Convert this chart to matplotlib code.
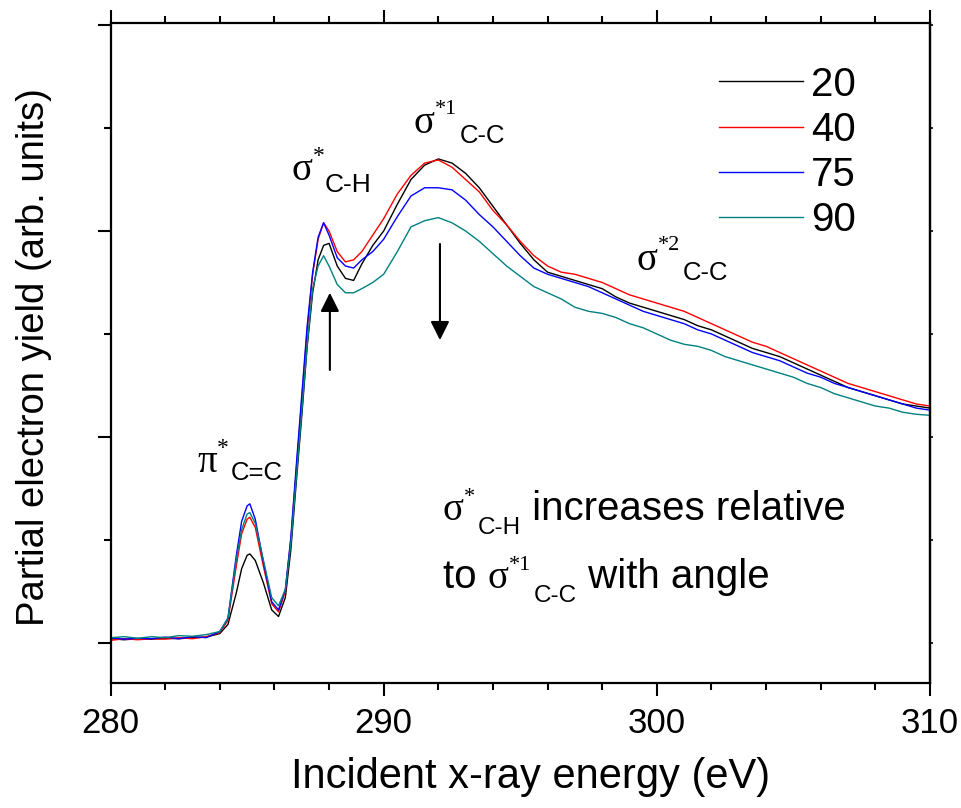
import matplotlib
matplotlib.use("Agg")
import matplotlib.pyplot as plt
import matplotlib.transforms as mtransforms
from matplotlib.ticker import MultipleLocator

plt.rcParams['font.family'] = ['Liberation Sans', 'DejaVu Sans']

# photon energy (eV)
energy = [280.0, 280.5, 281.0, 281.5, 282.0, 282.5, 283.0, 283.5, 284.0,
          284.3, 284.6, 284.8, 285.0, 285.1, 285.3, 285.6, 285.9, 286.15,
          286.4, 286.6, 286.8, 287.0, 287.2, 287.4, 287.6, 287.8, 288.0,
          288.3, 288.6, 288.9, 289.2, 289.6,
          290.0, 290.5, 291.0, 291.5, 292.0, 292.5, 293.0, 293.5, 294.0, 294.5,
          295.0, 295.5, 296.0, 296.5, 297.0, 297.5, 298.0, 298.5, 299.0, 299.5,
          300.0, 300.5, 301.0, 301.5, 302.0, 302.5, 303.0, 303.5, 304.0, 304.5,
          305.0, 305.5, 306.0, 306.5, 307.0, 307.5, 308.0, 308.5, 309.0, 309.5,
          310.0]

# partial electron yield for each incidence angle
pey_20 = [0.02, 0.015, 0.02, 0.018, 0.022, 0.02, 0.025, 0.028, 0.045,
          0.09, 0.24, 0.36, 0.425, 0.432, 0.40, 0.29, 0.16, 0.128,
          0.22, 0.45, 0.78, 1.10, 1.44, 1.70, 1.86, 1.93, 1.94,
          1.83, 1.77, 1.76, 1.84, 1.93,
          2.00, 2.13, 2.25, 2.32, 2.35, 2.33, 2.28, 2.21, 2.12, 2.03,
          1.94, 1.86, 1.80, 1.78, 1.76, 1.74, 1.72, 1.68, 1.65, 1.63,
          1.61, 1.59, 1.57, 1.54, 1.52, 1.49, 1.46, 1.43, 1.41, 1.39,
          1.36, 1.33, 1.30, 1.27, 1.24, 1.22, 1.20, 1.18, 1.16, 1.15,
          1.14]
pey_40 = [0.012, 0.02, 0.015, 0.02, 0.018, 0.025, 0.02, 0.03, 0.05,
          0.11, 0.37, 0.53, 0.60, 0.61, 0.56, 0.37, 0.19, 0.15,
          0.25, 0.50, 0.84, 1.18, 1.52, 1.79, 1.96, 2.04, 2.00,
          1.90, 1.85, 1.86, 1.90, 1.98,
          2.06, 2.18, 2.27, 2.33, 2.345, 2.31, 2.25, 2.19, 2.10, 2.03,
          1.95, 1.88, 1.83, 1.80, 1.79, 1.77, 1.75, 1.72, 1.69, 1.67,
          1.65, 1.63, 1.61, 1.58, 1.55, 1.52, 1.49, 1.46, 1.44, 1.41,
          1.38, 1.35, 1.32, 1.29, 1.26, 1.24, 1.22, 1.20, 1.18, 1.16,
          1.15]
pey_75 = [0.025, 0.018, 0.022, 0.02, 0.028, 0.02, 0.03, 0.025, 0.055,
          0.12, 0.42, 0.59, 0.665, 0.675, 0.60, 0.39, 0.20, 0.16,
          0.26, 0.51, 0.86, 1.20, 1.54, 1.80, 1.97, 2.04, 1.98,
          1.87, 1.83, 1.82, 1.86, 1.90,
          1.96, 2.07, 2.17, 2.21, 2.21, 2.20, 2.15, 2.08, 2.02, 1.95,
          1.88, 1.82, 1.79, 1.77, 1.75, 1.73, 1.70, 1.67, 1.64, 1.61,
          1.59, 1.57, 1.55, 1.52, 1.50, 1.47, 1.44, 1.41, 1.39, 1.37,
          1.34, 1.31, 1.29, 1.26, 1.24, 1.22, 1.20, 1.18, 1.16, 1.14,
          1.13]
pey_90 = [0.025, 0.03, 0.022, 0.03, 0.025, 0.035, 0.032, 0.04, 0.055,
          0.12, 0.40, 0.55, 0.625, 0.633, 0.58, 0.40, 0.22, 0.18,
          0.26, 0.48, 0.80, 1.12, 1.45, 1.72, 1.83, 1.88, 1.83,
          1.74, 1.70, 1.70, 1.72, 1.75,
          1.79, 1.90, 2.02, 2.05, 2.065, 2.04, 2.00, 1.95, 1.89, 1.83,
          1.78, 1.73, 1.70, 1.67, 1.63, 1.61, 1.60, 1.58, 1.55, 1.53,
          1.50, 1.47, 1.45, 1.44, 1.42, 1.39, 1.37, 1.35, 1.33, 1.31,
          1.29, 1.26, 1.24, 1.21, 1.19, 1.17, 1.15, 1.14, 1.12, 1.11,
          1.105]

angles = ['20', '40', '75', '90']
colors = ['black', '#ff0000', '#0000ff', '#008080']

fig = plt.figure(figsize=(9.62, 8.08), dpi=100)
ax = fig.add_axes([0.1149, 0.1547, 0.8518, 0.8168])

for lab, y, c in zip(angles, [pey_20, pey_40, pey_75, pey_90], colors):
    ax.plot(energy, y, color=c, lw=1.0, label=lab)

ax.set_xlim(280, 310)
ax.set_ylim(-0.195, 3.01)

ax.xaxis.set_major_locator(MultipleLocator(10))
ax.xaxis.set_minor_locator(MultipleLocator(2))
ax.yaxis.set_major_locator(MultipleLocator(1))
ax.yaxis.set_minor_locator(MultipleLocator(0.5))
ax.set_yticklabels([])

for s in ax.spines.values():
    s.set_linewidth(1.6)
ax.tick_params(axis='x', which='both', top=True, direction='out')
ax.tick_params(which='major', length=9.5, width=1.5, labelsize=25, pad=8)
ax.tick_params(which='minor', length=5, width=1.5)
ax.tick_params(axis='y', which='both', left=True, right=False)

# tiny ticks on the right spine
sec = ax.secondary_yaxis('right')
sec.yaxis.set_major_locator(MultipleLocator(1))
sec.yaxis.set_minor_locator(MultipleLocator(0.5))
sec.tick_params(which='both', direction='out', length=2, width=1.2, labelright=False)
sec.spines['right'].set_linewidth(1.6)

ax.set_xlabel('Incident x-ray energy (eV)', fontsize=30)
ax.set_ylabel('Partial electron yield (arb. units)', fontsize=27.5)
ax.xaxis.set_label_coords(0.513, -0.112)
ax.yaxis.set_label_coords(-0.072, 0.494)

ax.legend(frameon=False, loc='upper left', bbox_to_anchor=(0.742, 0.9356),
          fontsize=29, handlelength=2.1, handletextpad=0.2,
          labelspacing=0.18, borderpad=0, borderaxespad=0)

renderer = fig.canvas.get_renderer()
SERIF = 'Liberation Serif'
SANS = 'Liberation Sans'


def rich(x, y, parts):
    # parts: (text, size, rise in points, family, gap in points before)
    dx = 0.0
    for txt, size, rise, fam, gap in parts:
        dx += gap * fig.dpi / 72.0
        tr = mtransforms.offset_copy(ax.transData, fig=fig, x=dx,
                                     y=rise * fig.dpi / 72.0, units='dots')
        t = ax.text(x, y, txt, fontsize=size, family=fam, transform=tr,
                    ha='left', va='baseline')
        dx += t.get_window_extent(renderer).width


# peak labels
rich(283.17, 0.83, [('\u03c0', 28, 0, SERIF, 0), ('*', 17, 13, SERIF, 0),
                    ('C=C', 18.5, -6, SANS, 1.5)])
rich(286.64, 2.248, [('\u03c3', 28, 0, SERIF, 0), ('*', 17, 13, SERIF, 0),
                     ('C-H', 19, -9, SANS, 0)])
rich(291.11, 2.476, [('\u03c3', 28, 0, SERIF, 0), ('*1', 16, 14, SERIF, 0),
                     ('C-C', 18.5, -7, SANS, 2)])
rich(299.27, 1.811, [('\u03c3', 28, 0, SERIF, 0), ('*2', 16, 14, SERIF, 0),
                     ('C-C', 18.5, -7, SANS, 2)])

rich(292.17, 0.597, [('\u03c3', 28, 0, SERIF, 0), ('*', 16, 13, SERIF, 0),
                     ('C-H', 17.5, -10, SANS, 2), (' increases relative', 29, 0, SANS, 0)])
rich(292.17, 0.267, [('to ', 29, 0, SANS, 0), ('\u03c3', 28, 0, SERIF, 0),
                     ('*1', 16, 13, SERIF, 0), ('C-C', 17.5, -10, SANS, 2),
                     (' with angle', 29, 0, SANS, 0)])

# arrows
arrow = dict(arrowstyle='-|>,head_length=0.6,head_width=0.3', mutation_scale=19,
             color='black', lw=1.5, shrinkA=0, shrinkB=0)
ax.annotate('', xy=(288.03, 1.70), xytext=(288.03, 1.325), arrowprops=arrow)
ax.annotate('', xy=(292.06, 1.47), xytext=(292.06, 1.937), arrowprops=arrow)

fig.savefig('out.png', dpi=100)
